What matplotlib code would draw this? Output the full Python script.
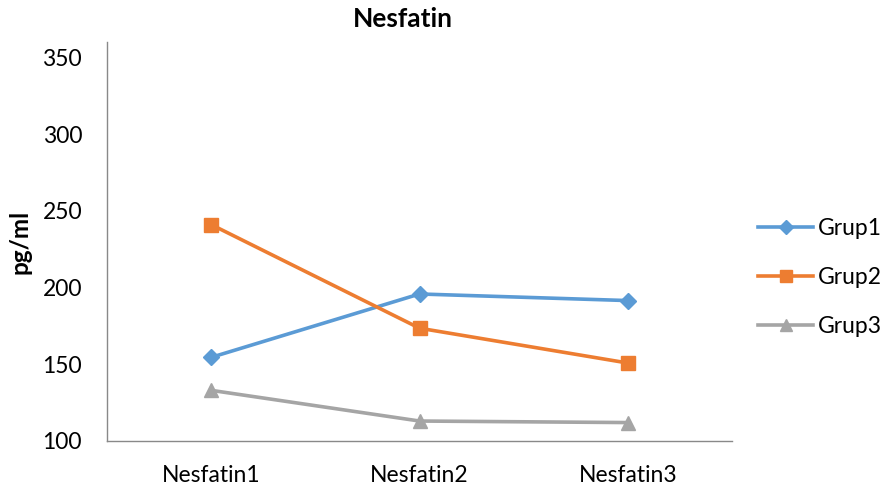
import matplotlib
matplotlib.use("Agg")
import matplotlib.pyplot as plt
from matplotlib.lines import Line2D

categories = ["Nesfatin1", "Nesfatin2", "Nesfatin3"]
grup1 = [154.5, 195.8, 191.5]
grup2 = [241.0, 173.5, 150.8]
grup3 = [133.0, 113.0, 112.0]
series_names = ["Grup1", "Grup2", "Grup3"]
y_ticks = [100, 150, 200, 250, 300, 350]

colors = ["#5B9BD5", "#ED7D31", "#A5A5A5"]
markers = ["D", "s", "^"]
msizes = [8.5, 9.5, 10]

plt.rcParams["font.family"] = ["Lato", "DejaVu Sans"]

fig = plt.figure(figsize=(8.89, 4.92), dpi=100)
ax = fig.add_axes([0.1204, 0.1037, 0.7030, 0.8109])

x = list(range(len(categories)))
for vals, c, m, ms, name in zip([grup1, grup2, grup3], colors, markers, msizes, series_names):
    ax.plot(x, vals, color=c, lw=2.6, marker=m, markersize=ms, label=name,
            solid_capstyle="round", zorder=3)

ax.set_xlim(-0.5, 2.5)
ax.set_ylim(100, 360)
ax.set_yticks(y_ticks)
ax.set_xticks(x)
ax.set_xticklabels(categories)
ax.tick_params(axis="both", length=0, labelsize=16.5, colors="#000000")
ax.tick_params(axis="x", pad=17.5)
ax.tick_params(axis="y", pad=18)
for s in ["top", "right"]:
    ax.spines[s].set_visible(False)
for s in ["left", "bottom"]:
    ax.spines[s].set_color("#898989")
    ax.spines[s].set_linewidth(1.0)

ax.set_title("Nesfatin", fontsize=19, fontweight="bold", pad=11, x=0.474)
ax.set_ylabel("pg/ml", fontsize=17.5, fontweight="bold", labelpad=8)

handles = [Line2D([0], [0], color=c, lw=2.6, marker=m, markersize=ms * 0.85)
           for c, m, ms in zip(colors, markers, msizes)]
fig.legend(handles, series_names, loc="center left", bbox_to_anchor=(0.830, 0.436),
           frameon=False, fontsize=16.5, handlelength=2.4, handletextpad=0.2,
           labelspacing=1.23)

fig.savefig("out.png", dpi=100)
